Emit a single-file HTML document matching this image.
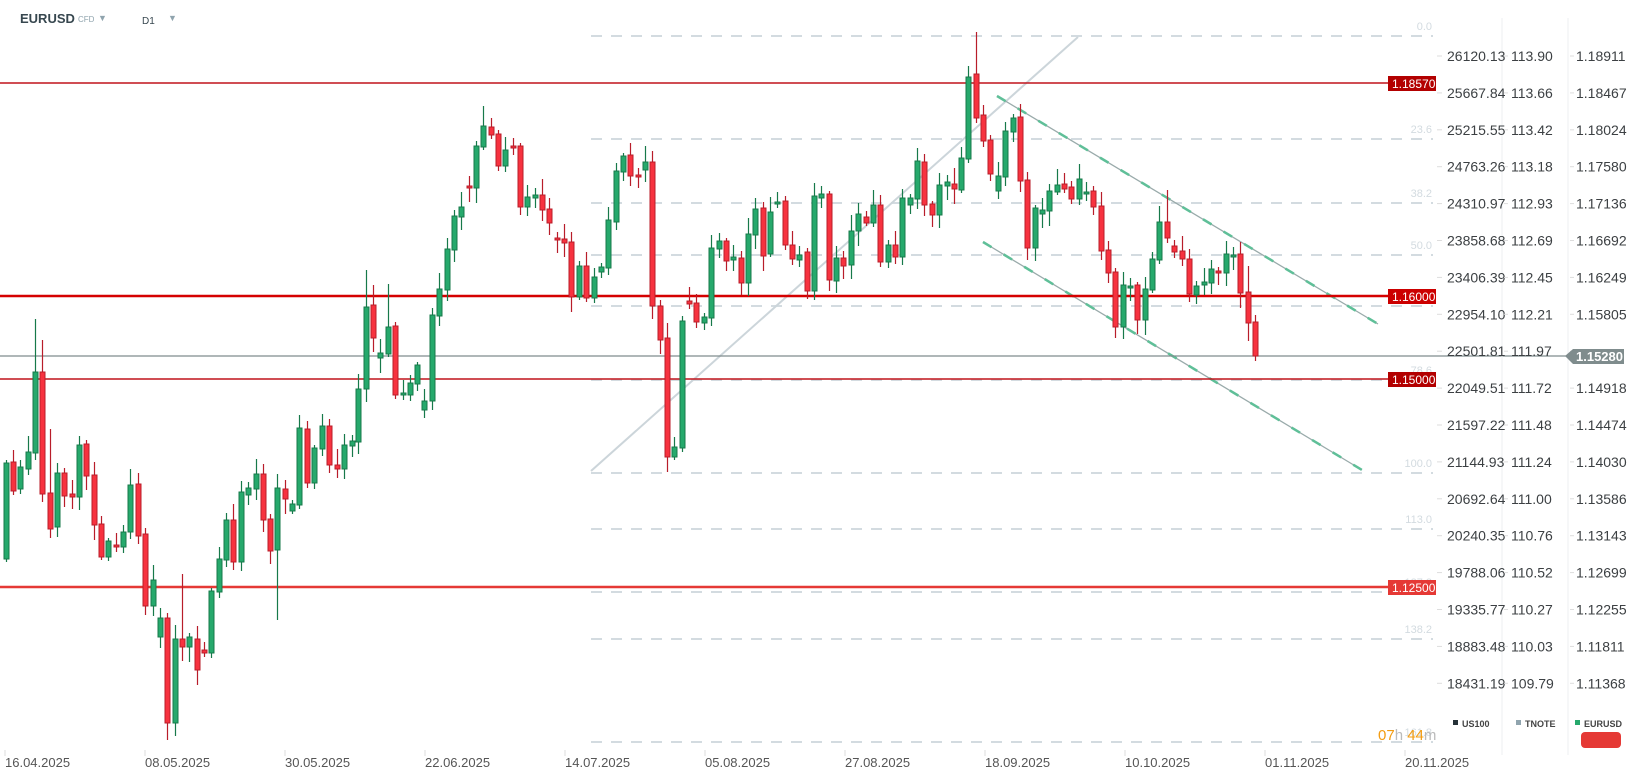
<!DOCTYPE html>
<html><head><meta charset="utf-8"><style>
html,body{margin:0;padding:0;background:#fff;width:1635px;height:779px;overflow:hidden}
svg{display:block;font-family:"Liberation Sans",sans-serif}
</style></head><body>
<svg id="s" width="1635" height="779" xmlns="http://www.w3.org/2000/svg">
<g id="fib" stroke="#d3dbe0" stroke-width="2" stroke-dasharray="11,9"></g>
<g id="fibt" fill="#d3dbe0" font-size="11" text-anchor="end"></g>
<line x1="591" y1="471" x2="1078" y2="37" stroke="#ccd5da" stroke-width="2"/>
<line x1="997" y1="96" x2="1378" y2="324" stroke="#9aa" stroke-width="1.3"/>
<line x1="997" y1="96" x2="1378" y2="324" stroke="#5fbf98" stroke-width="2.5" stroke-dasharray="10,14"/>
<line x1="983" y1="242" x2="1362" y2="470" stroke="#9aa" stroke-width="1.3"/>
<line x1="983" y1="242" x2="1362" y2="470" stroke="#5fbf98" stroke-width="2.5" stroke-dasharray="10,14"/>
<line x1="0" y1="83" x2="1433" y2="83" stroke="#c0141c" stroke-width="1.5"/>
<line x1="0" y1="296" x2="1433" y2="296" stroke="#d50000" stroke-width="2.5"/>
<line x1="0" y1="379" x2="1433" y2="379" stroke="#c0141c" stroke-width="1.5"/>
<line x1="0" y1="587" x2="1433" y2="587" stroke="#e53935" stroke-width="2.5"/>
<line x1="0" y1="356" x2="1568" y2="356" stroke="#7f8c8d" stroke-width="1.3"/>
<g id="c"></g>
<g font-size="12" fill="#fff">
<rect x="1388" y="76" width="48" height="15" fill="#b30000"/><text x="1392" y="88">1.18570</text>
<rect x="1388" y="289" width="48" height="15" fill="#cc0000"/><text x="1392" y="301">1.16000</text>
<rect x="1388" y="372" width="48" height="15" fill="#b30000"/><text x="1392" y="384">1.15000</text>
<rect x="1388" y="580" width="48" height="15" fill="#e53935"/><text x="1392" y="592">1.12500</text>
</g>
<line x1="1502" y1="18" x2="1502" y2="755" stroke="#eceff1"/>
<line x1="1568" y1="18" x2="1568" y2="755" stroke="#eceff1"/>
<g id="ax" font-size="14" fill="#3c4043"></g>
<polygon points="1565,356 1573,349 1624,349 1624,364 1573,364" fill="#7f8c8d"/>
<text x="1576" y="361" font-size="13" font-weight="bold" fill="#fff">1.15280</text>
<g font-size="9" font-weight="bold" fill="#444">
<rect x="1453" y="720" width="5" height="5" fill="#263238"/><text x="1462" y="727">US100</text>
<rect x="1516" y="720" width="5" height="5" fill="#90a4ae"/><text x="1525" y="727">TNOTE</text>
<rect x="1575" y="720" width="5" height="5" fill="#26a96c"/><text x="1584" y="727">EURUSD</text>
</g>
<rect x="1581" y="732" width="40" height="16" rx="4" fill="#e53935"/>
<text x="1378" y="740" font-size="15"><tspan fill="#f39c12">07</tspan><tspan fill="#bbb">h </tspan><tspan fill="#f39c12">44</tspan><tspan fill="#bbb">m</tspan></text>
<g id="dt" font-size="13" fill="#555"></g>
<text x="20" y="23" font-size="13" font-weight="bold" fill="#37474f">EURUSD</text>
<text x="78" y="22" font-size="8" fill="#90a4ae">CFD</text>
<text x="98" y="21" font-size="9" fill="#90a4ae">▼</text>
<text x="142" y="24" font-size="10" fill="#37474f">D1</text>
<text x="168" y="21" font-size="9" fill="#90a4ae">▼</text>
</svg>
<script>
var NS="http://www.w3.org/2000/svg";
function el(p,t,a,txt){var e=document.createElementNS(NS,t);for(var k in a)e.setAttribute(k,a[k]);if(txt!==undefined)e.textContent=txt;document.getElementById(p).appendChild(e);}
[[36,"0.0"],[139,"23.6"],[203,"38.2"],[255,"50.0"],[306,"61.8"],[380,"78.6"],[473,"100.0"],[529,"113.0"],[592,"127.2"],[639,"138.2"],[742,"161.8"]].forEach(function(f){
el("fib","line",{x1:591,y1:f[0],x2:1433,y2:f[0]});el("fibt","text",{x:1432,y:f[0]-6},f[1]);});
var a1=["26120.13","25667.84","25215.55","24763.26","24310.97","23858.68","23406.39","22954.10","22501.81","22049.51","21597.22","21144.93","20692.64","20240.35","19788.06","19335.77","18883.48","18431.19"];
var a2=["113.90","113.66","113.42","113.18","112.93","112.69","112.45","112.21","111.97","111.72","111.48","111.24","111.00","110.76","110.52","110.27","110.03","109.79"];
var a3=["1.18911","1.18467","1.18024","1.17580","1.17136","1.16692","1.16249","1.15805","1.15361","1.14918","1.14474","1.14030","1.13586","1.13143","1.12699","1.12255","1.11811","1.11368"];
for(var i=0;i<18;i++){var y=56+i*36.9+5;
el("ax","text",{x:1447,y:y},a1[i]);el("ax","text",{x:1511,y:y},a2[i]);if(i!=8)el("ax","text",{x:1576,y:y},a3[i]);
el("ax","line",{x1:1437,y1:y-5,x2:1442,y2:y-5,stroke:"#ddd"});el("ax","line",{x1:1504,y1:y-5,x2:1508,y2:y-5,stroke:"#ddd"});el("ax","line",{x1:1570,y1:y-5,x2:1574,y2:y-5,stroke:"#ddd"});}
var ds=["16.04.2025","08.05.2025","30.05.2025","22.06.2025","14.07.2025","05.08.2025","27.08.2025","18.09.2025","10.10.2025","01.11.2025","20.11.2025"];
ds.forEach(function(d,i){var x=5+i*140;el("dt","text",{x:x,y:767},d);el("dt","line",{x1:x,y1:750,x2:x,y2:756,stroke:"#ddd"});});
var C=[[6,559,463],[13,462,491],[20,489,467],[28,469,452],[35,453,372,319],[42,372,494,340],[50,493,529,429],[57,527,473],[64,473,496],[72,494,497],[79,497,445],[86,444,476],[94,475,525],[101,524,557],[108,557,541],[116,545,547],[123,547,532],[130,532,485],[138,484,536],[145,534,606],[153,606,580],[160,637,618],[167,618,723,0,740],[175,723,639],[182,639,647,574],[189,647,637],[197,639,670,0,685],[204,650,653],[211,653,591],[219,592,559],[226,560,520],[233,520,562],[241,562,492],[248,495,488],[256,489,474],[263,474,520],[270,519,551],[277,550,488,0,620],[285,489,499],[292,511,504],[299,505,428],
[307,429,483],[314,483,448],[322,449,426],[329,426,465],[337,465,469],[344,469,445],[352,446,441],[358,442,389],[366,389,307,270],[373,305,338,285],[380,358,353],[388,354,327,284],[395,326,395],[403,395,393],[410,395,383],[417,384,365],[424,410,401],[432,401,315],[439,316,289],[447,290,249],[454,250,216],[461,217,207],[469,186,188],[476,188,146],[483,147,126,106],[491,127,135],[498,134,166],[505,166,150],[513,146,148],[520,146,207],[527,207,197],[535,198,195],[542,195,210],[549,209,223],[557,238,240],[564,239,243],[571,242,297],[579,297,266],[586,266,298],[594,298,277],[601,272,267],[608,268,220],
[616,222,171],[623,172,156],[630,155,176],[638,175,177],[645,170,162],[652,162,306],[660,306,340],[667,338,457],[674,457,447],[682,448,321],[689,301,304],[696,303,322],[704,323,317],[711,318,248],[719,249,241],[726,241,261],[733,260,257],[741,258,283],[748,283,234],[755,235,209],[763,208,256],[770,254,212],[777,204,202],[785,201,245],[792,245,259],[799,260,255],[807,252,291],[814,291,196],[821,198,194],[829,194,280],[836,281,258],[843,258,266],[851,265,231],[858,231,214],[866,217,223],[873,223,205],[880,205,262],[888,262,245],[895,245,257],[902,257,198],[910,205,198],[917,199,161],
[924,162,205],[932,204,215],[939,215,185],[947,186,182],[954,184,189],[961,190,158],[968,159,77,66],[976,74,118,32],[983,115,141],[990,140,174],[998,191,176],[1005,177,131],[1013,132,118],[1020,117,181],[1027,180,248],[1035,248,208],[1042,214,210],[1049,211,191],[1057,192,185],[1064,184,189],[1071,187,199],[1079,199,179],[1086,194,192],[1093,191,207],[1101,206,251],[1108,250,273],[1115,272,327],[1123,327,285],[1130,288,286],[1137,285,320],[1145,320,289],[1152,290,259],[1159,260,222],[1167,222,238,190],[1174,246,252],[1182,251,259],[1189,259,294],[1196,295,286],[1204,285,282],[1211,283,269],[1218,271,273],[1226,273,254],[1233,256,255],[1240,254,293,242],[1248,292,323,266,341],[1255,322,356,315,361]];
C.forEach(function(c,i){var x=c[0]+0.5,o=c[1],cl=c[2],t=Math.min(o,cl),b=Math.max(o,cl);
var h=c[3]||t-(3+(i*37)%14),l=c[4]||b+(3+(i*53)%13);var g=cl<o;
var fc=g?"#26a96c":"#f7323f",sc=g?"#17794a":"#b81d2a";
el("c","line",{x1:x,y1:h,x2:x,y2:l,stroke:sc,"stroke-width":1.2});
el("c","rect",{x:x-2.5,y:t,width:5,height:Math.max(b-t,2),fill:fc,stroke:sc,"stroke-width":1});});
</script>
</body></html>
